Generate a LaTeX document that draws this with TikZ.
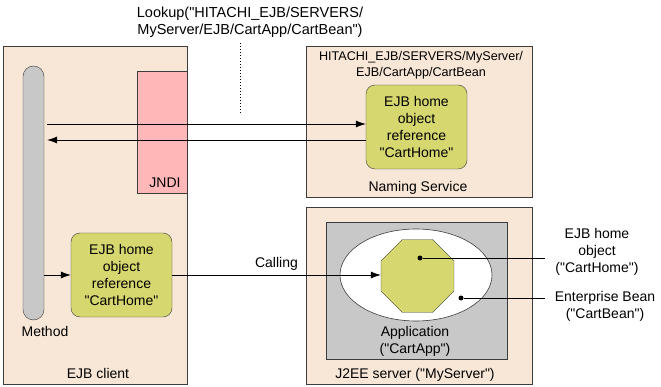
\documentclass[tikz,border=0pt]{standalone}
\usepackage{fontspec}
\setmainfont{Liberation Sans}[Ligatures=TeXOff]
\usetikzlibrary{shapes.geometric,arrows.meta}
\definecolor{peach}{HTML}{F8E7D7}
\definecolor{jndipink}{HTML}{FFB7B7}
\definecolor{olive}{HTML}{D7D770}
\definecolor{midgray}{HTML}{C8C8C8}
\definecolor{edge}{HTML}{3C3C3C}
\begin{document}
\begin{tikzpicture}[x=1pt,y=-1pt,
    font=\fontsize{14}{17}\selectfont,
    area/.style={draw=edge,fill=peach,line width=0.8pt},
    refbox/.style={draw=edge,fill=olive,rounded corners=9pt,align=center,
      minimum width=101pt,minimum height=84pt,inner sep=1pt},
    dot/.style={circle,fill=black,inner sep=0pt,minimum size=5pt},
    arr/.style={-{Latex[length=10pt,width=7pt]},line width=0.6pt}]
  \useasboundingbox (0,0) rectangle (661,387);
  % containers
  \draw[area] (3,46) rectangle (187,384);
  \draw[area] (306,46) rectangle (532,197);
  \draw[area] (306,207) rectangle (532,384);
  \draw[draw=edge,fill=jndipink,line width=0.6pt] (137,71) rectangle (187,193);
  \draw[draw=edge,fill=midgray,line width=0.6pt] (326,222) rectangle (507,359);
  \node[draw=edge,fill=white,ellipse,minimum width=152pt,minimum height=92pt,line width=0.6pt] (app) at (416,275) {};
  \node[draw=edge,fill=midgray,rounded corners=10.5pt,minimum width=21pt,minimum height=254pt,inner sep=0pt] (method) at (33.5,193) {};
  % objects
  \node[refbox] (nsref) at (416.5,127) {EJB home\\object\\reference\\"CartHome"};
  \node[refbox] (clref) at (121.5,275) {EJB home\\object\\reference\\"CartHome"};
  \node[draw=edge,fill=olive,regular polygon,regular polygon sides=8,minimum size=79pt,inner sep=0pt] (bean) at (417.5,276) {};
  \node[dot] (homedot) at (420,258) {};
  \node[dot] (beandot) at (461,298) {};
  % labels
  \node[align=center,font=\fontsize{14.5}{17}\selectfont] (lookup) at (250,22) {Lookup("HITACHI\_EJB/SERVERS/\\MyServer/EJB/CartApp/CartBean")};
  \node[align=center,font=\fontsize{12.6}{16}\selectfont] (jndiname) at (421,65) {HITACHI\_EJB/SERVERS/MyServer/\\EJB/CartApp/CartBean};
  \node (jndi) at (165,183) {JNDI};
  \node (ns) at (418,188) {Naming Service};
  \node (meth) at (45,331) {Method};
  \node (client) at (98,373) {EJB client};
  \node (server) at (415,375) {J2EE server ("MyServer")};
  \node[align=center] (appname) at (415,341) {Application\\("CartApp")};
  \node[align=center] (homelbl) at (597,252) {EJB home\\object\\("CartHome")};
  \node[align=center] (beanlbl) at (605,306) {Enterprise Bean\\("CartBean")};
  % connectors
  \draw[dotted,line width=1pt] (240,43) coordinate (dtop) -- (240,114) coordinate (dbot);
  \draw[arr,shorten <=3pt] (method.east |- 0,124) -- (nsref.west |- 0,124);
  \draw[arr,shorten >=3pt] (nsref.west |- 0,140) -- (method.east |- 0,140);
  \draw[arr] (method.east |- clref.west) -- (clref.west);
  \draw[arr] (clref.east) -- node[above=1pt] {Calling} (bean.west |- clref.east);
  \draw[line width=0.6pt] (homedot) -- (545,258) coordinate (homeend);
  \draw[line width=0.6pt] (beandot) -- (545,298) coordinate (beanend);
\end{tikzpicture}
\end{document}
